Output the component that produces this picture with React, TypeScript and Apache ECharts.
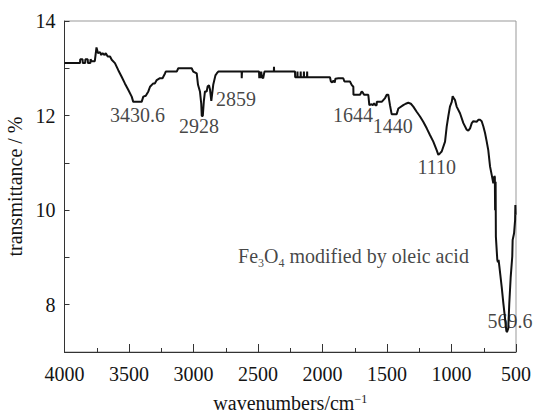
import React, { useEffect, useRef } from "react";
import * as echarts from "echarts";

// Spectrum: wavenumber (cm^-1) and transmittance (%)
const wavenumbers: number[] = [
  4000, 3960, 3880, 3878, 3860, 3858, 3840, 3838, 3820, 3818, 3800, 3798, 3790, 3765, 3752,
  3740, 3725, 3715, 3705, 3690, 3680, 3665, 3647, 3634, 3609, 3583, 3557, 3532, 3505, 3479,
  3467, 3402, 3389, 3370, 3350, 3337, 3312, 3300, 3285, 3260, 3240, 3221, 3215, 3130, 3118,
  3014, 3002, 2975, 2965, 2950, 2940, 2936, 2928, 2920, 2911, 2898, 2890, 2880, 2872, 2862,
  2857, 2847, 2830, 2820, 2808, 2627, 2626, 2624, 2492, 2490, 2485, 2480, 2475, 2470, 2460,
  2450, 2377, 2376, 2375, 2213, 2212, 2195, 2194, 2193, 2170, 2169, 2168, 2145, 2144, 2143,
  2120, 2119, 2118, 1942, 1935, 1925, 1915, 1905, 1900, 1877, 1839, 1830, 1787, 1774, 1761,
  1760, 1709, 1696, 1688, 1678, 1645, 1637, 1620, 1610, 1600, 1590, 1580, 1579, 1541, 1515,
  1502, 1490, 1477, 1464, 1425, 1412, 1374, 1355, 1335, 1315, 1296, 1270, 1244, 1219, 1192,
  1167, 1141, 1115, 1102, 1090, 1076, 1050, 1037, 1025, 1012, 998, 991, 985, 973, 960,
  934, 908, 882, 870, 856, 843, 831, 805, 792, 779, 766, 753, 740, 727, 715,
  701, 688, 676, 668, 664, 662, 658, 656, 645, 640, 635, 629, 611, 598, 585,
  575, 570, 560, 552, 541, 529, 526, 515, 507, 505, 503,
];
const transmittance: number[] = [
  13.11, 13.11, 13.11, 13.19, 13.19, 13.11, 13.11, 13.19, 13.19, 13.11, 13.11, 13.19, 13.15, 13.15, 13.44,
  13.32, 13.34, 13.28, 13.32, 13.28, 13.32, 13.25, 13.25, 13.18, 13.11, 12.96, 12.82, 12.68, 12.54, 12.40,
  12.29, 12.29, 12.40, 12.42, 12.51, 12.61, 12.68, 12.68, 12.75, 12.79, 12.79, 12.89, 12.93, 12.93, 13.0,
  13.0, 12.93, 12.89, 12.65, 12.51, 12.25, 11.99, 11.99, 12.3, 12.51, 12.51, 12.62, 12.64, 12.55, 12.31,
  12.31, 12.65, 12.85, 12.89, 12.93, 12.93, 12.79, 12.93, 12.93, 12.79, 12.93, 12.79, 12.93, 12.81, 12.79,
  12.93, 12.93, 13.03, 12.93, 12.93, 12.81, 12.81, 12.93, 12.81, 12.81, 12.93, 12.81, 12.81, 12.93, 12.81,
  12.81, 12.93, 12.81, 12.81, 12.72, 12.70, 12.74, 12.70, 12.78, 12.79, 12.79, 12.72, 12.72, 12.65, 12.61,
  12.44, 12.44, 12.51, 12.49, 12.44, 12.44, 12.22, 12.24, 12.22, 12.26, 12.22, 12.22, 12.29, 12.29, 12.37,
  12.44, 12.44, 12.22, 12.03, 12.03, 12.15, 12.22, 12.25, 12.27, 12.25, 12.19, 12.08, 11.98, 11.87, 11.73,
  11.59, 11.45, 11.27, 11.17, 11.2, 11.24, 11.45, 11.77, 11.98, 12.19, 12.29, 12.41, 12.38, 12.33, 12.19,
  12.05, 11.84, 11.70, 11.68, 11.73, 11.84, 11.88, 11.87, 11.91, 11.91, 11.88, 11.77, 11.63, 11.45, 11.27,
  10.92, 10.74, 10.57, 10.72, 10.70, 10.0, 10.6, 9.44, 8.95, 8.90, 8.95, 8.81, 8.38, 8.03, 7.71,
  7.45, 7.42, 7.50, 8.03, 8.59, 9.02, 9.37, 9.51, 9.79, 10.11, 9.9,
];

// Peak annotations: text and anchor (data coords)
const peakTexts: string[] = ["3430.6", "2928", "2859", "1644", "1440", "1110", "569.6"];
const peakLabelX: number[] = [3434, 2957, 2670, 1764, 1456, 1115, 546];
const peakLabelY: number[] = [12.01, 11.79, 12.35, 12.02, 11.77, 10.91, 7.66];

const sampleNote = "{m|Fe}{sub|3}{m|O}{sub|4}{m| modified by oleic acid}";
const sampleNoteX = 1760;
const sampleNoteY = 9.02;

const xTicks = { min: 500, max: 4000, interval: 500 };
const yTicks = { min: 7, max: 14, interval: 1, labelled: [8, 10, 12, 14] };

const FONT = "'Liberation Serif', 'Times New Roman', serif";
const TEXT_COLOR = "#141414";

export default function App() {
  const ref = useRef<HTMLDivElement>(null);
  useEffect(() => {
    if (!ref.current) return;
    const chart = echarts.init(ref.current, undefined, { renderer: "svg" });
    const lineData = wavenumbers.map((w, i) => [w, transmittance[i]]);
    const peakData = peakTexts.map((t, i) => ({ value: [peakLabelX[i], peakLabelY[i]], name: t }));
    chart.setOption({
      animation: false,
      backgroundColor: "#fff",
      grid: {
        left: 64.5,
        right: 18,
        top: 21,
        bottom: 63,
        show: true,
        borderColor: "#999",
        borderWidth: 1,
        containLabel: false,
        outerBoundsMode: "none",
      },
      xAxis: {
        type: "value",
        min: xTicks.min,
        max: xTicks.max,
        interval: xTicks.interval,
        inverse: true,
        name: "wavenumbers/cm{sup|−1}",
        nameLocation: "middle",
        nameGap: 41,
        nameTextStyle: {
          fontFamily: FONT,
          fontSize: 20,
          color: TEXT_COLOR,
          rich: {
            sup: { fontFamily: FONT, fontSize: 12, color: TEXT_COLOR, verticalAlign: "top", lineHeight: 10 },
          },
        },
        axisLine: { show: true, lineStyle: { color: "#333", width: 1 } },
        axisTick: { show: true, inside: true, length: 8, lineStyle: { color: "#333" } },
        minorTick: { show: true, splitNumber: 2, length: 4, lineStyle: { color: "#333" } },
        splitLine: { show: false },
        axisLabel: {
          fontFamily: FONT,
          fontSize: 20,
          color: TEXT_COLOR,
          margin: 12,
          showMinLabel: true,
          showMaxLabel: true,
          formatter: (v: number) => String(v),
        },
      },
      yAxis: {
        type: "value",
        min: yTicks.min,
        max: yTicks.max,
        interval: yTicks.interval,
        name: "transmittance / %",
        nameLocation: "middle",
        nameGap: 31,
        nameTextStyle: { fontFamily: FONT, fontSize: 20, color: TEXT_COLOR },
        axisLine: { show: true, lineStyle: { color: "#333", width: 1 } },
        axisTick: { show: true, inside: true, length: 5, lineStyle: { color: "#333" } },
        splitLine: { show: false },
        axisLabel: {
          fontFamily: FONT,
          fontSize: 20,
          color: TEXT_COLOR,
          margin: 9,
          formatter: (v: number) => (yTicks.labelled.indexOf(v) >= 0 ? String(v) : ""),
        },
      },
      series: [
        {
          type: "line",
          data: lineData,
          showSymbol: false,
          symbol: "none",
          lineStyle: { color: "#111", width: 2 },
          z: 3,
        },
        {
          type: "scatter",
          data: peakData,
          symbolSize: 0,
          silent: true,
          label: {
            show: true,
            position: "inside",
            formatter: (p: any) => p.name,
            fontFamily: FONT,
            fontSize: 20,
            color: TEXT_COLOR,
          },
          z: 4,
        },
        {
          type: "scatter",
          data: [{ value: [sampleNoteX, sampleNoteY] }],
          symbolSize: 0,
          silent: true,
          label: {
            show: true,
            position: "inside",
            formatter: sampleNote,
            rich: {
              m: { fontFamily: FONT, fontSize: 20, color: TEXT_COLOR, lineHeight: 26 },
              sub: { fontFamily: FONT, fontSize: 12, color: TEXT_COLOR, verticalAlign: "bottom", lineHeight: 12 },
            },
          },
          z: 4,
        },
      ],
    });
    return () => chart.dispose();
  }, []);
  return (
    <div
      ref={ref}
      style={{ position: "fixed", left: 0, top: 0, width: 534, height: 415, background: "#fff" }}
    />
  );
}
